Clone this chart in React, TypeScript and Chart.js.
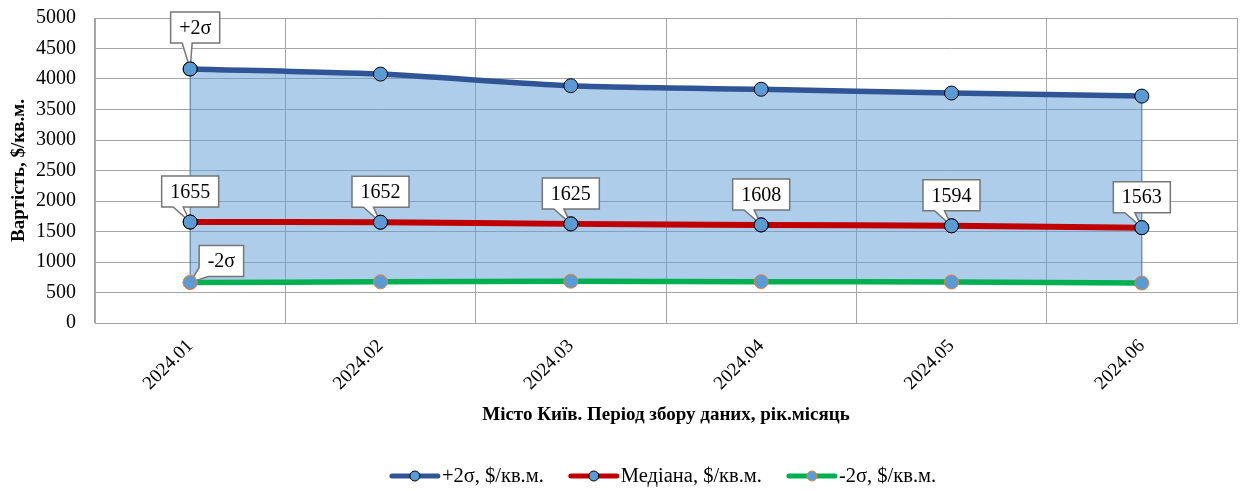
import React, { useEffect, useRef } from 'react';
import { Chart, registerables } from 'chart.js';

Chart.register(...registerables);

const categories = ['2024.01', '2024.02', '2024.03', '2024.04', '2024.05', '2024.06'];
const plus2Sigma = [4165, 4080, 3890, 3832, 3770, 3720];
const median = [1655, 1652, 1625, 1608, 1594, 1563];
const minus2Sigma = [665, 675, 685, 678, 672, 655];
const seriesNames = ['+2σ, $/кв.м.', 'Медіана, $/кв.м.', '-2σ, $/кв.м.'];
const yTitle = 'Вартість, $/кв.м.';
const xTitle = 'Місто Київ. Період збору даних, рік.місяць';
const plusLabel = '+2σ';
const minusLabel = '-2σ';

const SERIF = '"Liberation Serif", "Times New Roman", serif';
const BLUE = '#2F5597';
const RED = '#C00000';
const GREEN = '#00B050';
const POINT_FILL = '#5B9BD5';
const GRID = '#a6a6a6';

type Callout = { ds: number; idx: number; text: string; kind: 'above' | 'plus' | 'minus' };

const callouts: Callout[] = [
  { ds: 0, idx: 0, text: plusLabel, kind: 'plus' },
  { ds: 2, idx: 0, text: minusLabel, kind: 'minus' },
  ...median.map((v, i) => ({ ds: 1, idx: i, text: String(v), kind: 'above' as const })),
];

function drawCallout(ctx: CanvasRenderingContext2D, c: Callout, px: number, py: number) {
  ctx.save();
  ctx.font = `20px ${SERIF}`;
  const tw = ctx.measureText(c.text).width;
  const w = tw + 17;
  const h = 31;
  let L = 0, T = 0;
  const pts: [number, number][] = [];
  if (c.kind === 'above') {
    L = px - w / 2; T = py - 15 - h;
    const R = L + w, B = T + h;
    pts.push([L, T], [R, T], [R, B], [px - 7, B], [px, py], [px - 17, B], [L, B]);
  } else if (c.kind === 'plus') {
    L = px + 5 - w / 2; T = py - 26 - h;
    const R = L + w, B = T + h;
    pts.push([L, T], [R, T], [R, B], [px + 2, B], [px, py], [px - 8, B], [L, B]);
  } else {
    L = px + 9; T = py - 6 - h;
    const R = L + w, B = T + h;
    pts.push([L, T], [R, T], [R, B], [L + 9, B], [px, py], [L, B - 9]);
  }
  ctx.beginPath();
  ctx.moveTo(pts[0][0], pts[0][1]);
  for (let i = 1; i < pts.length; i++) ctx.lineTo(pts[i][0], pts[i][1]);
  ctx.closePath();
  ctx.fillStyle = '#ffffff';
  ctx.fill();
  ctx.strokeStyle = '#767676';
  ctx.lineWidth = 1.5;
  ctx.lineJoin = 'miter';
  ctx.stroke();
  ctx.fillStyle = '#000000';
  ctx.textAlign = 'center';
  ctx.textBaseline = 'middle';
  ctx.fillText(c.text, L + w / 2, T + h / 2 + 1);
  ctx.restore();
}

const edgePlugin = {
  id: 'areaEdges',
  beforeDatasetsDraw(chart: any) {
    const top = chart.getDatasetMeta(0).data;
    const bot = chart.getDatasetMeta(2).data;
    if (!top.length || !bot.length) return;
    const ctx = chart.ctx;
    ctx.save();
    ctx.strokeStyle = '#41719C';
    ctx.lineWidth = 1;
    [0, top.length - 1].forEach((i) => {
      ctx.beginPath();
      ctx.moveTo(top[i].x, top[i].y);
      ctx.lineTo(bot[i].x, bot[i].y);
      ctx.stroke();
    });
    ctx.restore();
  },
};

const calloutPlugin = {
  id: 'callouts',
  afterDatasetsDraw(chart: any) {
    const ctx = chart.ctx;
    callouts.forEach((c) => {
      const el = chart.getDatasetMeta(c.ds).data[c.idx];
      if (el) drawCallout(ctx, c, el.x, el.y);
    });
    callouts.forEach((c) => {
      const el = chart.getDatasetMeta(c.ds).data[c.idx];
      if (el) el.draw(ctx, chart.chartArea);
    });
  },
};

const legendPlugin = {
  id: 'customLegend',
  afterDraw(chart: any) {
    const ctx = chart.ctx;
    const area = chart.chartArea;
    const colors = [BLUE, RED, GREEN];
    const borders = ['#000000', '#000000', '#ED7D31'];
    ctx.save();
    ctx.font = `20.5px ${SERIF}`;
    const lineW = 50, gapText = 2, gapItem = 25;
    const widths = seriesNames.map((n) => lineW + gapText + ctx.measureText(n).width);
    const total = widths.reduce((a, b) => a + b, 0) + gapItem * (seriesNames.length - 1);
    let x = (area.left + area.right) / 2 - total / 2 - 3;
    const y = 476;
    seriesNames.forEach((n, i) => {
      ctx.strokeStyle = colors[i];
      ctx.lineWidth = 5;
      ctx.lineCap = 'round';
      ctx.beginPath();
      ctx.moveTo(x + 2, y);
      ctx.lineTo(x + lineW - 2, y);
      ctx.stroke();
      ctx.beginPath();
      ctx.arc(x + lineW / 2, y, 5, 0, Math.PI * 2);
      ctx.fillStyle = POINT_FILL;
      ctx.fill();
      ctx.lineWidth = 1;
      ctx.strokeStyle = borders[i];
      ctx.stroke();
      ctx.fillStyle = '#000000';
      ctx.textAlign = 'left';
      ctx.textBaseline = 'middle';
      ctx.fillText(n, x + lineW + gapText, y + 1);
      x += widths[i] + gapItem;
    });
    ctx.restore();
  },
};

export default function App() {
  const ref = useRef<HTMLCanvasElement>(null);
  useEffect(() => {
    if (!ref.current) return;
    const chart = new Chart(ref.current, {
      type: 'line',
      data: {
        labels: categories,
        datasets: [
          {
            label: seriesNames[0],
            data: plus2Sigma,
            borderColor: BLUE,
            borderWidth: 5.5,
            backgroundColor: 'rgba(91,155,213,0.5)',
            fill: 2,
            tension: 0.25,
            pointRadius: 7,
            pointBackgroundColor: POINT_FILL,
            pointBorderColor: '#000000',
            pointBorderWidth: 1,
          },
          {
            label: seriesNames[1],
            data: median,
            borderColor: RED,
            borderWidth: 6,
            fill: false,
            tension: 0.25,
            pointRadius: 7,
            pointBackgroundColor: POINT_FILL,
            pointBorderColor: '#000000',
            pointBorderWidth: 1,
          },
          {
            label: seriesNames[2],
            data: minus2Sigma,
            borderColor: GREEN,
            borderWidth: 5.5,
            fill: false,
            tension: 0.25,
            pointRadius: 7,
            pointBackgroundColor: POINT_FILL,
            pointBorderColor: '#ED7D31',
            pointBorderWidth: 1,
          },
        ],
      },
      options: {
        responsive: false,
        animation: false,
        layout: { padding: { left: 0, right: 5, top: 18, bottom: 63 } },
        plugins: {
          legend: { display: false },
          tooltip: { enabled: false },
          filler: { drawTime: 'beforeDatasetsDraw' },
        },
        scales: {
          x: {
            type: 'category',
            offset: true,
            grid: { offset: true, color: GRID, drawTicks: false, lineWidth: 1 },
            border: { color: GRID },
            ticks: {
              color: '#000000',
              font: { family: SERIF, size: 19 },
              minRotation: 45,
              maxRotation: 45,
              padding: 12,
            },
            title: {
              display: true,
              text: xTitle,
              color: '#000000',
              font: { family: SERIF, size: 19, weight: 'bold' },
              padding: { top: 0, bottom: 2 },
            },
            afterFit: (scale: any) => {
              scale.height = 105;
              scale.paddingLeft = 0;
              scale.paddingRight = 0;
              scale.paddingTop = 0;
              scale.paddingBottom = 0;
            },
          },
          y: {
            min: 0,
            max: 5000,
            grid: { color: GRID, drawTicks: false, lineWidth: 1 },
            border: { color: GRID },
            ticks: {
              stepSize: 500,
              color: '#000000',
              font: { family: SERIF, size: 20 },
              padding: 19,
              callback: (v: any) => String(v),
            },
            title: {
              display: true,
              text: yTitle,
              color: '#000000',
              font: { family: SERIF, size: 19, weight: 'bold' },
              padding: { top: 8, bottom: 0 },
            },
            afterFit: (scale: any) => {
              scale.width = 95;
              scale.paddingTop = 0;
              scale.paddingBottom = 0;
              scale.paddingLeft = 0;
              scale.paddingRight = 0;
            },
          },
        },
      },
      plugins: [edgePlugin, calloutPlugin, legendPlugin],
    } as any);
    return () => chart.destroy();
  }, []);
  return (
    <div style={{ position: 'fixed', left: 0, top: 0, width: 1245, height: 491, background: '#ffffff' }}>
      <canvas ref={ref} width={1245} height={491} style={{ display: 'block' }} />
    </div>
  );
}
